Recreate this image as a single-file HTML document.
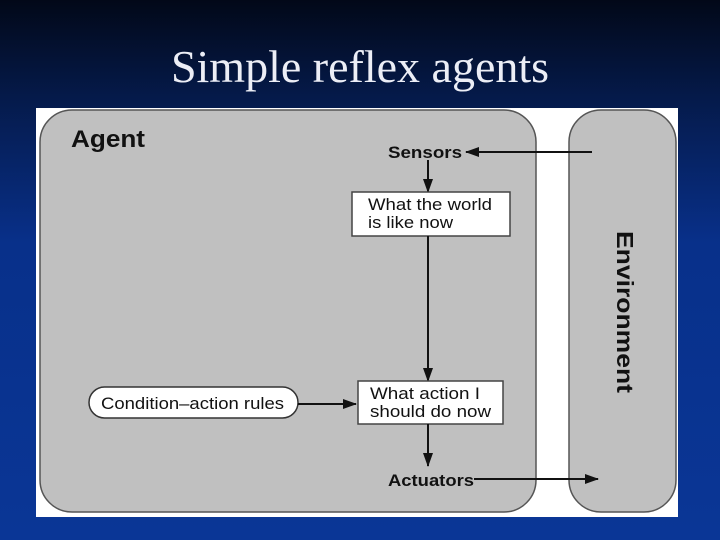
<!DOCTYPE html>
<html><head><style>
html,body{margin:0;padding:0;width:720px;height:540px;overflow:hidden}
body{background:linear-gradient(180deg,#020818 0%,#051a4a 18%,#08308a 45%,#0a3696 100%);position:relative;font-family:"Liberation Sans",sans-serif}
.title{position:absolute;left:0;width:720px;top:40px;text-align:center;font-family:"Liberation Serif",serif;font-size:46px;color:#eceef6}
</style></head><body>
<div class="title">Simple reflex agents</div>
<svg width="720" height="540" style="position:absolute;left:0;top:0" font-family="Liberation Sans, sans-serif">
<defs><marker id="a" markerWidth="14" markerHeight="10" refX="13" refY="5" orient="auto" markerUnits="userSpaceOnUse"><path d="M0,0 L14,5 L0,10 z" fill="#111"/></marker></defs>
<rect x="36" y="108" width="642" height="409" fill="#fff"/>
<rect x="40" y="110" width="496" height="402" rx="32" fill="#c0c0c0" stroke="#555" stroke-width="1.5"/>
<rect x="569" y="110" width="107" height="402" rx="32" fill="#c0c0c0" stroke="#555" stroke-width="1.5"/>
<text x="71" y="147" font-size="24" font-weight="bold" fill="#111" textLength="74" lengthAdjust="spacingAndGlyphs">Agent</text>
<text x="388" y="158" font-size="17" font-weight="bold" fill="#111" textLength="74" lengthAdjust="spacingAndGlyphs">Sensors</text>
<line x1="592" y1="152" x2="466" y2="152" stroke="#111" stroke-width="2" marker-end="url(#a)"/>
<line x1="428" y1="160" x2="428" y2="192" stroke="#111" stroke-width="2" marker-end="url(#a)"/>
<rect x="352" y="192" width="158" height="44" fill="#fff" stroke="#444" stroke-width="1.5"/>
<text x="368" y="210" font-size="17" fill="#111" textLength="124" lengthAdjust="spacingAndGlyphs">What the world</text>
<text x="368" y="228" font-size="17" fill="#111" textLength="85" lengthAdjust="spacingAndGlyphs">is like now</text>
<line x1="428" y1="236" x2="428" y2="381" stroke="#111" stroke-width="2" marker-end="url(#a)"/>
<rect x="358" y="381" width="145" height="43" fill="#fff" stroke="#444" stroke-width="1.5"/>
<text x="370" y="399" font-size="17" fill="#111" textLength="110" lengthAdjust="spacingAndGlyphs">What action I</text>
<text x="370" y="417" font-size="17" fill="#111" textLength="121" lengthAdjust="spacingAndGlyphs">should do now</text>
<rect x="89" y="387" width="209" height="31" rx="15.5" fill="#fff" stroke="#333" stroke-width="1.5"/>
<text x="101" y="409" font-size="17" fill="#111" textLength="183" lengthAdjust="spacingAndGlyphs">Condition–action rules</text>
<line x1="298" y1="404" x2="356" y2="404" stroke="#111" stroke-width="2" marker-end="url(#a)"/>
<line x1="428" y1="424" x2="428" y2="466" stroke="#111" stroke-width="2" marker-end="url(#a)"/>
<text x="388" y="486" font-size="17" font-weight="bold" fill="#111" textLength="86" lengthAdjust="spacingAndGlyphs">Actuators</text>
<line x1="474" y1="479" x2="598" y2="479" stroke="#111" stroke-width="2" marker-end="url(#a)"/>
<text transform="translate(617,312) rotate(90)" text-anchor="middle" font-size="23" font-weight="bold" fill="#111" textLength="162" lengthAdjust="spacingAndGlyphs">Environment</text>
</svg>
</body></html>
